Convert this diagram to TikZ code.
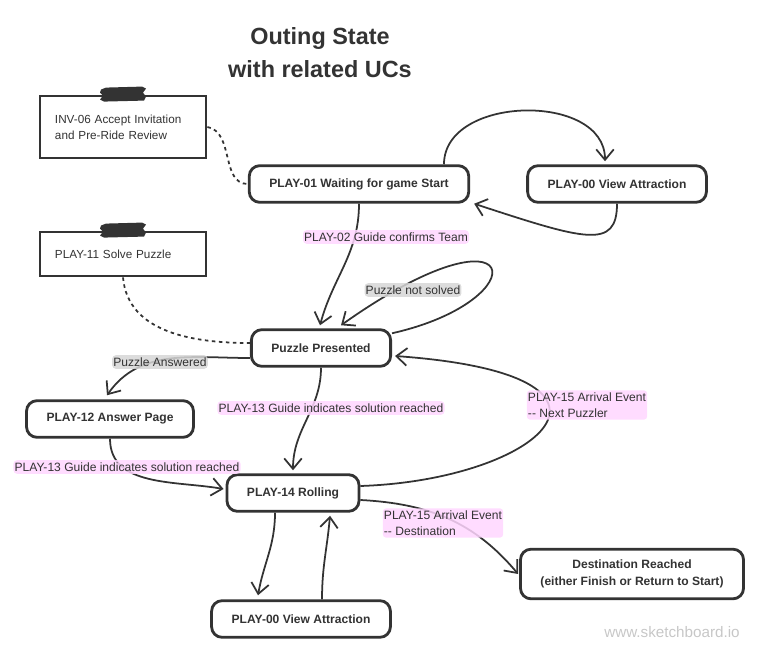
\documentclass[tikz,border=0pt]{standalone}
\usepackage{fontspec}
\setmainfont{Liberation Sans}
\usetikzlibrary{arrows.meta,calc}
\definecolor{ink}{HTML}{333333}
\definecolor{pinkbg}{HTML}{FFD6FF}
\definecolor{graybg}{HTML}{D6D6D6}
\tikzset{
  state/.style={draw=ink,line width=2.4pt,rounded corners=9pt,fill=white,
    font=\bfseries\fontsize{10.3}{14}\selectfont,align=center,
    inner xsep=0.6cm,inner ysep=0.33cm,minimum height=1.1cm},
  note/.style={draw=ink,line width=2.4pt,fill=white,
    font=\fontsize{10}{13.6}\selectfont,align=left,
    text width=4.08cm,inner xsep=0.45cm},
  pinklbl/.style={fill=pinkbg,rounded corners=3pt,inner xsep=1pt,inner ysep=2pt,
    font=\fontsize{10.3}{13.6}\selectfont,align=left,fill opacity=.85,text opacity=1},
  graylbl/.style={pinklbl,fill=graybg},
  trans/.style={draw=ink,line width=1.5pt,-{Straight Barb[length=9pt,width=15pt]}},
  link/.style={draw=ink,line width=1.5pt,dash pattern=on 3pt off 3pt},
}
\newcommand\notetape[1]{%
  \fill[ink,shift={(#1.north)}] (-22,-5) -- (-17,-7) -- (19,-8) -- (23,-6) -- (20,-2)
    -- (23,2) -- (21,6) -- (-19,7) -- (-23,5) -- (-20,1) -- (-23,-2) -- cycle;}

\begin{document}
\begin{tikzpicture}[x=0.03cm,y=-0.03cm,color=ink]
    \useasboundingbox (0,0) rectangle (759,653);
    \node[font=\bfseries\fontsize{20}{28}\selectfont,align=center] (title) at (320,53) {Outing State\\with related UCs};

    \node[note,minimum height=1.86cm] (inv) at (123,127) {INV-06 Accept Invitation\\and Pre-Ride Review};
    \node[note,minimum height=1.32cm] (solve) at (123,254) {PLAY-11 Solve Puzzle};
    \notetape{inv}
    \notetape{solve}

    \node[state] (wait) at (359,184) {PLAY-01 Waiting for game Start};
    \node[state] (viewtop) at (617,184) {PLAY-00 View Attraction};
    \node[state] (puzzle) at (321,348) {Puzzle Presented};
    \node[state] (answer) at (110,419) {PLAY-12 Answer Page};
    \node[state] (rolling) at (293,493) {PLAY-14 Rolling};
    \node[state] (dest) at (632,574) {Destination Reached\\(either Finish or Return to Start)};
    \node[state] (viewbot) at (301,619) {PLAY-00 View Attraction};

    \draw[link] (inv.east) to[out=-10,in=180] (wait.west);
    \draw[link] (solve.south) to[out=-85,in=180] ($(puzzle.west)+(0,-5)$);

    \draw[trans] ($(wait.north)+(85,0)$) to[out=90,in=90,looseness=1.1] ($(viewtop.north)+(-12,-3)$);
    \draw[trans] (viewtop.south) .. controls (617,250) and (585,240) .. ($(wait.south east)+(4,0)$);
    \draw[trans] (wait.south) to[out=-90,in=75] ($(puzzle.north)+(-1,-3)$);
    \draw[trans] ($(puzzle.north east)+(0,5)$) .. controls (540,300) and (525,195) .. ($(puzzle.north)+(20,-3)$);
    \draw[trans] ($(puzzle.west)+(0,10)$) to[out=180,in=55] ($(answer.north)+(-3,-4)$);
    \draw[trans] (puzzle.south) to[out=-90,in=90] ($(rolling.north)+(0,-3)$);
    \draw[trans] (answer.south) to[out=-90,in=170] ($(rolling.west)+(-2,-4)$);
    \draw[trans] ($(rolling.east)+(0,-7)$) .. controls (540,480) and (660,375) .. ($(puzzle.east)+(3,8)$);
    \draw[trans] ($(rolling.east)+(0,7)$) to[out=-3,in=130] ($(dest.west)+(-1,0)$);
    \draw[trans] ($(rolling.south)+(-18,0)$) to[out=-90,in=80] ($(viewbot.north)+(-43,-4)$);
    \draw[trans] ($(viewbot.north)+(21,0)$) to[out=90,in=-95] ($(rolling.south)+(37,3)$);

    \node[pinklbl] (lbl02) at (386,237) {PLAY-02 Guide confirms Team};
    \node[graylbl] (lblnot) at (413,290) {Puzzle not solved};
    \node[graylbl] (lblans) at (160,362) {Puzzle Answered};
    \node[pinklbl] (lbl13a) at (331,408) {PLAY-13 Guide indicates solution reached};
    \node[pinklbl] (lbl13b) at (127,467) {PLAY-13 Guide indicates solution reached};
    \node[pinklbl] (lbl15a) at (587,405) {PLAY-15 Arrival Event\\-\kern0pt- Next Puzzler};
    \node[pinklbl] (lbl15b) at (443,523) {PLAY-15 Arrival Event\\-\kern0pt- Destination};

    \node[text=black!22,font=\fontsize{13}{15}\selectfont] (mark) at (672,632) {www.sketchboard.io};
\end{tikzpicture}
\end{document}
